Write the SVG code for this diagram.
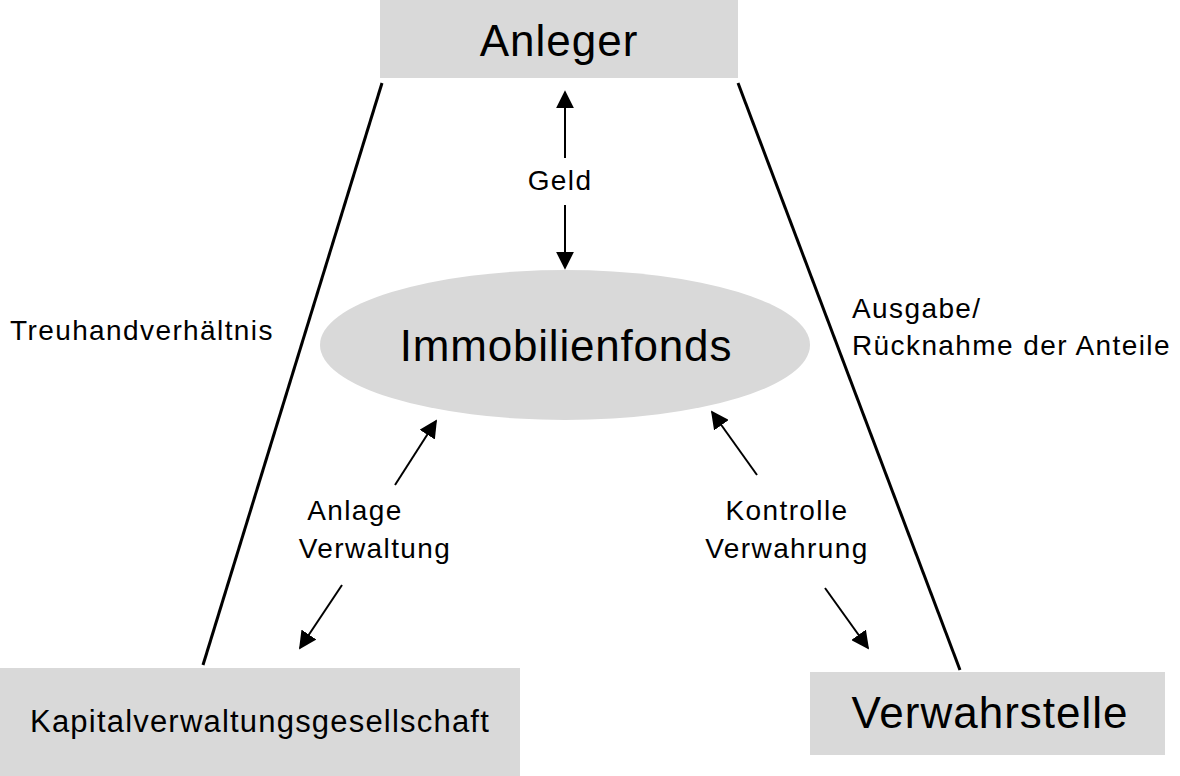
<svg xmlns="http://www.w3.org/2000/svg" width="1180" height="776" viewBox="0 0 1180 776">
<defs>
<style>
.box{fill:#d9d9d9}
text{font-family:"Liberation Sans",Arial,sans-serif;fill:#000}
.l{stroke:#000;stroke-width:3;fill:none}
.a{stroke:#000;stroke-width:2;fill:none;marker-end:url(#ah)}
.s{font-size:28px;letter-spacing:1.4px}
</style>
<marker id="ah" viewBox="0 0 10 10" refX="9" refY="5" markerWidth="9" markerHeight="9" markerUnits="strokeWidth" orient="auto"><path d="M0,0L10,5L0,10z" fill="#000"/></marker>
</defs>
<rect width="1180" height="776" fill="#fff"/>
<g id="anleger"><rect class="box" x="380" y="0" width="358" height="78"/><text x="559" y="56" font-size="44" letter-spacing="1" text-anchor="middle">Anleger</text></g>
<g id="fonds"><ellipse class="box" cx="565" cy="345" rx="245" ry="75"/><text x="566" y="361" font-size="44" letter-spacing="0.8" text-anchor="middle">Immobilienfonds</text></g>
<g id="kvg"><rect class="box" x="0" y="668" width="520" height="108"/><text x="260" y="732" font-size="31" letter-spacing="1.2" text-anchor="middle">Kapitalverwaltungsgesellschaft</text></g>
<g id="verwahrstelle"><rect class="box" x="810" y="672" width="355" height="83"/><text x="990" y="728" font-size="44" letter-spacing="1" text-anchor="middle">Verwahrstelle</text></g>
<g id="connectors">
<line class="l" x1="382" y1="83" x2="203" y2="665"/>
<line class="l" x1="738" y1="83" x2="960" y2="670"/>
<line class="a" x1="565" y1="158" x2="565" y2="92"/>
<line class="a" x1="565" y1="205" x2="565" y2="268"/>
<line class="a" x1="395" y1="485" x2="436" y2="421"/>
<line class="a" x1="342" y1="585" x2="300" y2="648"/>
<line class="a" x1="757" y1="475" x2="712" y2="412"/>
<line class="a" x1="825" y1="588" x2="868" y2="648"/>
</g>
<g id="labels">
<text class="s" x="560" y="190" text-anchor="middle">Geld</text>
<text class="s" x="355" y="520" text-anchor="middle">Anlage</text>
<text class="s" x="375" y="558" text-anchor="middle">Verwaltung</text>
<text class="s" x="787" y="520" text-anchor="middle">Kontrolle</text>
<text class="s" x="787" y="558" text-anchor="middle">Verwahrung</text>
<text class="s" x="10" y="340">Treuhandverhältnis</text>
<text class="s" x="852" y="318">Ausgabe/</text>
<text class="s" x="852" y="355">Rücknahme der Anteile</text>
</g>
</svg>
